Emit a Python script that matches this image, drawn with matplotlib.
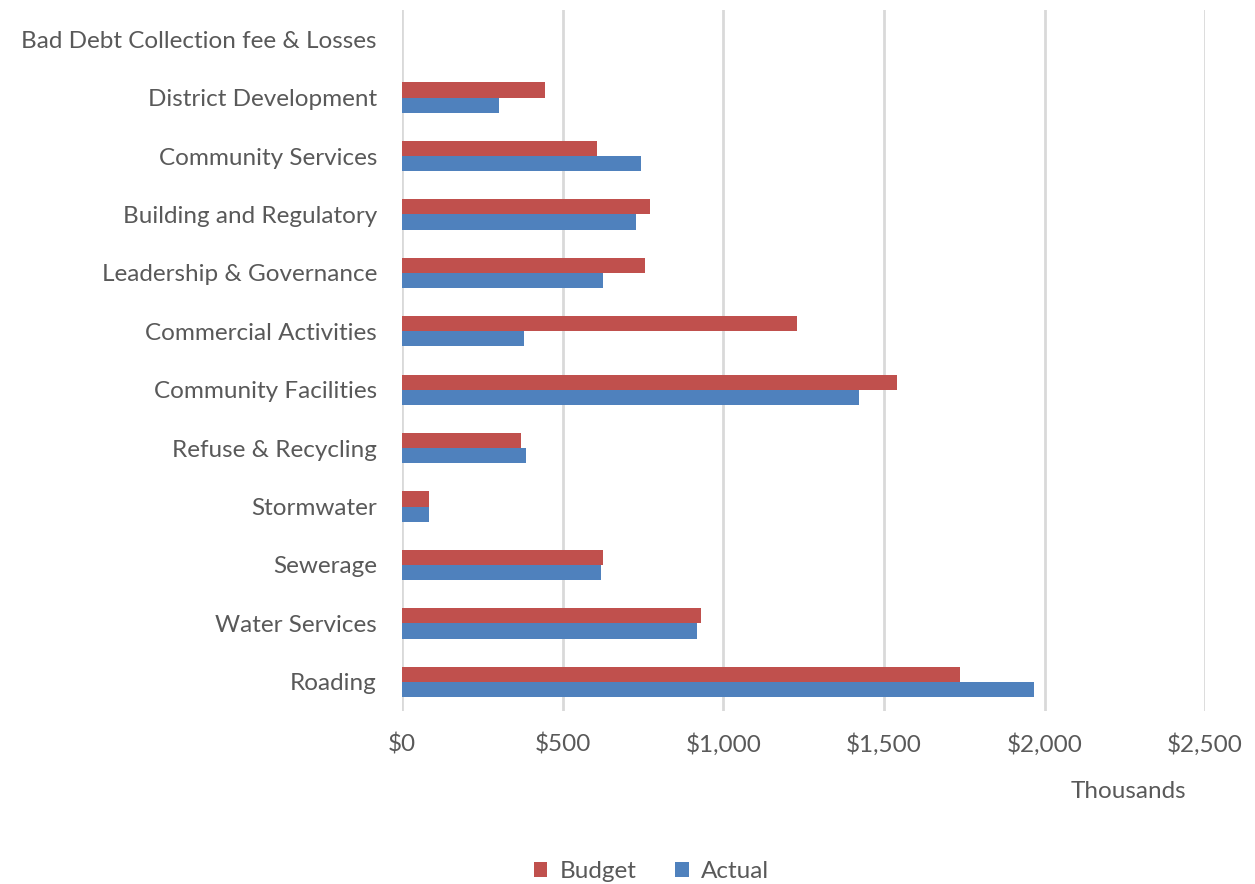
import matplotlib
matplotlib.use("Agg")
import matplotlib.pyplot as plt
import numpy as np

# Expenditure by activity, in thousands of dollars
categories = [
    "Bad Debt Collection fee & Losses",
    "District Development",
    "Community Services",
    "Building and Regulatory",
    "Leadership & Governance",
    "Commercial Activities",
    "Community Facilities",
    "Refuse & Recycling",
    "Stormwater",
    "Sewerage",
    "Water Services",
    "Roading",
]
budget = [0, 444, 608, 773, 755, 1231, 1542, 372, 85, 627, 931, 1738]
actual = [0, 303, 745, 727, 627, 381, 1424, 385, 84, 618, 918, 1966]
x_ticks = [0, 500, 1000, 1500, 2000, 2500]
x_tick_labels = ["$0", "$500", "$1,000", "$1,500", "$2,000", "$2,500"]

RED = "#C0504D"
BLUE = "#4F81BD"
TEXT = "#595959"
GRID = "#D9D9D9"
FS = 17.5

plt.rcParams["font.family"] = ["Lato", "DejaVu Sans"]

fig = plt.figure(figsize=(12.55, 8.84), dpi=100)
ax = fig.add_axes([0.3203, 0.1957, 0.6400, 0.7930])

y = np.arange(len(categories))
h = 0.26
ax.barh(y - h / 2, budget, height=h, color=RED, label="Budget", zorder=3)
ax.barh(y + h / 2, actual, height=h, color=BLUE, label="Actual", zorder=3)

ax.set_ylim(len(categories) - 0.5, -0.5)
ax.set_xlim(0, 2500)
ax.set_yticks(y)
ax.set_yticklabels(categories)
ax.set_xticks(x_ticks)
ax.set_xticklabels(x_tick_labels)

for s in ax.spines.values():
    s.set_visible(False)
ax.grid(axis="x", color=GRID, linewidth=2.0, zorder=0)
ax.tick_params(axis="both", length=0, colors=TEXT, labelsize=FS)
ax.tick_params(axis="y", pad=18)
ax.tick_params(axis="x", pad=16)

fig.text(0.899, 0.105, "Thousands", ha="center", va="center",
         color=TEXT, fontsize=FS)

leg = fig.legend(loc="center", bbox_to_anchor=(0.519, 0.014), ncol=2,
                 frameon=False, fontsize=FS, handlelength=0.55,
                 handleheight=0.55, handletextpad=0.5, columnspacing=1.6)
for t in leg.get_texts():
    t.set_color(TEXT)

fig.savefig("out.png", dpi=100, facecolor="white")
